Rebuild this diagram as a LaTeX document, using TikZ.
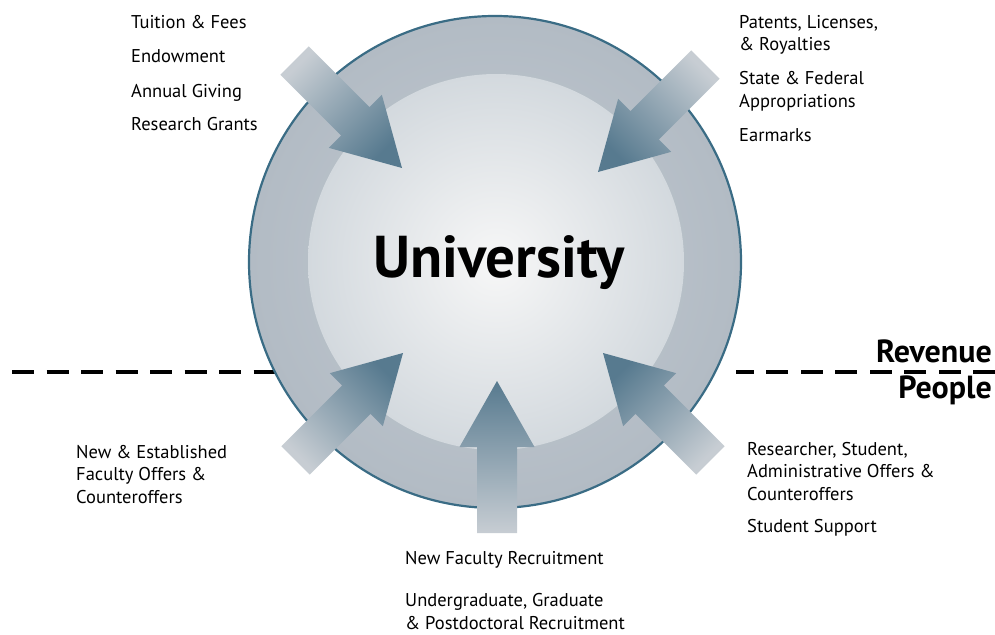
\documentclass[tikz,border=0pt]{standalone}
\usepackage{fontspec}
\setmainfont{PT Sans}
\usetikzlibrary{positioning}
\definecolor{ringedge}{HTML}{3A6C85}
\definecolor{ringfill}{HTML}{B2BBC4}
\definecolor{ringlight}{HTML}{C4CBD2}
\definecolor{corelight}{HTML}{F7F7F7}
\definecolor{coredark}{HTML}{D3D9DE}
\definecolor{flowdark}{HTML}{577A8F}
\definecolor{flowlight}{HTML}{C7CDD3}
\tikzset{
  srclabel/.style = {align=left, anchor=base west, inner sep=0pt,
    font=\fontsize{18.5}{22.5}\selectfont},
  sidelabel/.style = {anchor=base east, inner sep=0pt,
    font=\fontsize{32}{32}\selectfont\bfseries},
  divider/.style = {line width=4pt, dash pattern=on 22pt off 12.5pt},
  ring/.style = {circle, minimum size=492pt, inner sep=0pt, draw=ringedge,
    line width=2.2pt, inner color=ringlight, outer color=ringfill},
  core/.style = {circle, minimum size=376pt, inner sep=0pt,
    inner color=corelight, outer color=coredark},
  flow/.style = {top color=flowdark, bottom color=flowlight}}
% inflow arrow: #1 tip, #2 direction, #3 shading angle
\newcommand{\inflow}[3]{%
  \shade[flow, shading angle=#3, shift={(#1)}, rotate=#2]
    (0,0) -- (-66,37.5) -- (-66,20) -- (-152,20) -- (-152,-20)
    -- (-66,-20) -- (-66,-37.5) -- cycle;}

\begin{document}
\begin{tikzpicture}[x=1pt,y=-1pt]
\useasboundingbox (0,0) rectangle (995,634);

% revenue / people divider
\coordinate (divL) at (12,372);
\coordinate (divR) at (995,372);
\draw[divider] (divL) -- (500,372);
\draw[divider] (divR) -- (736,372);

\node[ring] (ring) at (495,262) {};
\node[core] (core) at (496,262) {};
\node[anchor=base, inner sep=0pt, font=\fontsize{59}{59}\selectfont\bfseries]
  (univ) at (499,277) {University};

\coordinate (tipTL) at (402,168);
\coordinate (tipTR) at (598,172);
\coordinate (tipBL) at (403,353);
\coordinate (tipB) at (497,381);
\coordinate (tipBR) at (603,353);
\inflow{tipTL}{-45}{-135}
\inflow{tipTR}{-135}{135}
\inflow{tipBL}{45}{-45}
\inflow{tipB}{90}{0}
\inflow{tipBR}{135}{45}

\node[sidelabel] (rev) at (992,362) {Revenue};
\node[sidelabel] (ppl) at (992,398) {People};

% revenue sources (base = last line)
\node[srclabel] (tuition) at (131,29) {Tuition \& Fees};
\node[srclabel] (endow) at (131,63) {Endowment};
\node[srclabel] (giving) at (131,97) {Annual Giving};
\node[srclabel] (grants) at (131,130) {Research Grants};
\node[srclabel] (patents) at (739,51) {Patents, Licenses,\\\& Royalties};
\node[srclabel] (approp) at (739,107) {State \& Federal\\Appropriations};
\node[srclabel] (earmarks) at (739,141) {Earmarks};

% people sources
\node[srclabel] (faculty) at (76,503) {New \& Established\\Faculty Offers \&\\Counteroffers};
\node[srclabel] (staff) at (747,500) {Researcher, Student,\\Administrative Offers \&\\Counteroffers};
\node[srclabel] (support) at (747,532) {Student Support};
\node[srclabel] (recruit) at (405,564) {New Faculty Recruitment};
\node[srclabel] (students) at (405,629) {Undergraduate, Graduate\\\& Postdoctoral Recruitment};
\end{tikzpicture}
\end{document}
